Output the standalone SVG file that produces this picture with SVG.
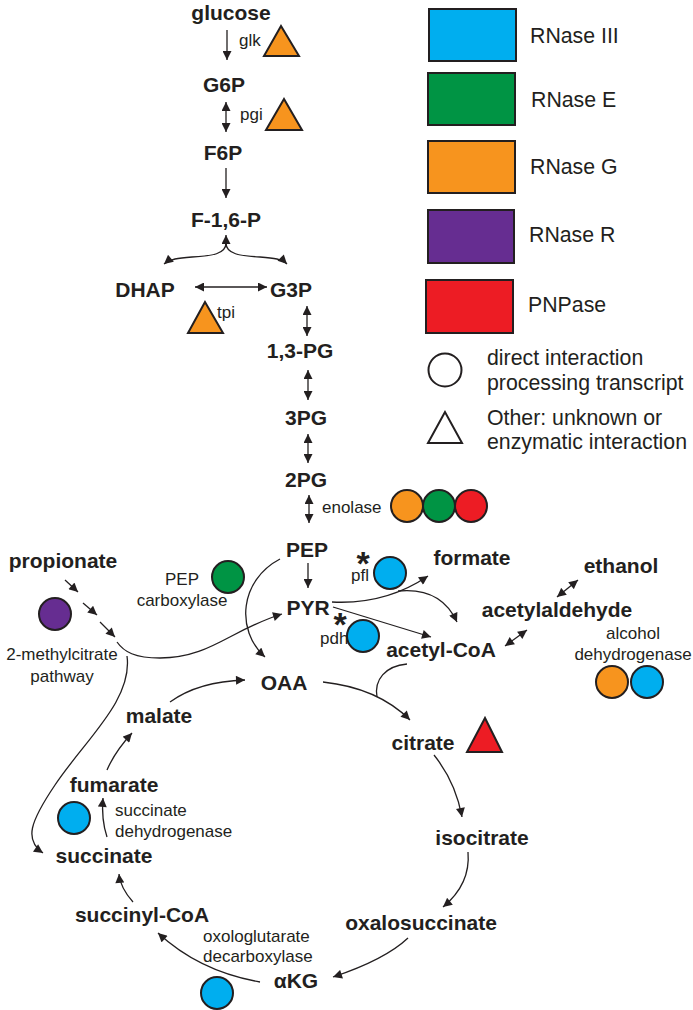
<svg xmlns="http://www.w3.org/2000/svg" width="693" height="1010" viewBox="0 0 693 1010">
<style>
text{font-family:"Liberation Sans",Arial,sans-serif;fill:#231F20}
.b{font-weight:bold;font-size:21px;text-anchor:middle}
.s{font-size:17px}
.sm{font-size:17px;text-anchor:middle}
.lg{font-size:21.3px}
.st{font-weight:bold;font-size:34px;text-anchor:middle}
.c{fill:none;stroke:#231F20;stroke-width:1.3}
.a{marker-end:url(#ah)}
.d{marker-start:url(#ah);marker-end:url(#ah)}
.sh{stroke:#231F20;stroke-width:2}
.blue{fill:#00AEEF}.green{fill:#009444}.orange{fill:#F7941E}.purple{fill:#662D91}.red{fill:#ED1C24}.white{fill:#fff}
</style>
<defs>
<marker id="ah" viewBox="0 0 10 10" refX="10" refY="5" markerWidth="10" markerHeight="9" markerUnits="userSpaceOnUse" orient="auto-start-reverse">
<path d="M0,0 L10,5 L0,10 z" fill="#231F20"/>
</marker>
</defs>
<rect width="693" height="1010" fill="#fff"/>

<g id="legend">
<rect class="sh blue" x="429" y="9" width="87" height="52"/>
<text class="lg" x="530" y="43">RNase III</text>
<rect class="sh green" x="428" y="73" width="87" height="52"/>
<text class="lg" x="531" y="107">RNase E</text>
<rect class="sh orange" x="428" y="141" width="87" height="52"/>
<text class="lg" x="530" y="174">RNase G</text>
<rect class="sh purple" x="428" y="210" width="86" height="53"/>
<text class="lg" x="529" y="242">RNase R</text>
<rect class="sh red" x="426" y="280" width="87" height="53"/>
<text class="lg" x="528" y="312">PNPase</text>
<circle class="sh white" cx="445" cy="370" r="16.5"/>
<text class="lg" x="487" y="365">direct interaction</text>
<text class="lg" x="487" y="390">processing transcript</text>
<polygon class="sh white" points="445,412 428,443 462,443"/>
<text class="lg" x="487" y="425">Other: unknown or</text>
<text class="lg" x="487" y="449">enzymatic interaction</text>
</g>

<g id="connectors">
<path class="c a" d="M227,30 L227,60"/>
<path class="c d" d="M226,102 L226,132"/>
<path class="c a" d="M226,168 L226,198"/>
<path class="c a" d="M226,246 L226,235"/>
<path class="c a" d="M226,243 C226,254 212,256 192,257 C178,258 170,259 164,264"/>
<path class="c a" d="M226,243 C226,254 240,256 260,257 C274,258 282,259 287,264"/>
<path class="c d" d="M195,287 L267,287"/>
<path class="c d" d="M307,306 L307,336"/>
<path class="c d" d="M308,370 L308,400"/>
<path class="c d" d="M308,434 L308,463"/>
<path class="c d" d="M309,495 L309,523"/>
<path class="c a" d="M308,563 L308,588"/>
<path class="c a" d="M280,559 C240,580 235,630 265,657"/>
<path class="c a" d="M332,602 C370,604 400,595 428,576"/>
<path class="c a" d="M398,591 C428,588 447,600 457,622"/>
<path class="c a" d="M333,607 L431,637"/>
<path class="c d" d="M505,646 L527,630"/>
<path class="c d" d="M557,597 L578,580"/>
<path class="c" d="M407,664 C385,666 374,680 377,697"/>
<path class="c a" d="M323,682 C360,686 390,700 410,720"/>
<path class="c a" d="M434,755 C450,775 458,795 462,817"/>
<path class="c a" d="M468,852 C470,875 460,893 443,907"/>
<path class="c a" d="M408,938 C390,955 360,968 333,977"/>
<path class="c a" d="M260,982 C220,975 185,958 158,933"/>
<path class="c a" d="M133,902 C125,893 120,885 119,874"/>
<path class="c a" d="M107,837 C103,825 102,810 103,798"/>
<path class="c a" d="M107,770 C113,756 121,745 132,733"/>
<path class="c a" d="M170,702 C188,689 212,681 245,680"/>
<path class="c a" d="M65,580 L78,592"/>
<path class="c a" d="M83,603 L97,615"/>
<path class="c a" d="M100,622 L115,637"/>
<path class="c a" d="M117,642 C124,652 135,658 160,658 C210,658 230,630 282,614"/>
<path class="c a" d="M127,656 C133,700 85,740 55,785 C30,822 24,840 43,853"/>
</g>

<g id="glucose"><text class="b" x="231" y="20">glucose</text>
<text class="s" x="239" y="46">glk</text>
<polygon class="sh orange" points="281,26 264,56 299,56"/></g>
<g id="G6P"><text class="b" x="224" y="92">G6P</text>
<text class="s" x="240" y="120">pgi</text>
<polygon class="sh orange" points="284,99 266,130 302,130"/></g>
<g id="F6P"><text class="b" x="223" y="160">F6P</text></g>
<g id="F16P"><text class="b" x="226" y="227">F-1,6-P</text></g>
<g id="DHAP"><text class="b" x="145" y="297">DHAP</text>
<polygon class="sh orange" points="205,302 188,333 223,333"/>
<text class="s" x="217" y="318">tpi</text></g>
<g id="G3P"><text class="b" x="291" y="297">G3P</text></g>
<g id="PG13"><text class="b" x="300" y="358">1,3-PG</text></g>
<g id="PG3"><text class="b" x="306" y="425">3PG</text></g>
<g id="PG2"><text class="b" x="306" y="487">2PG</text>
<text class="s" x="322" y="513">enolase</text>
<circle class="sh orange" cx="407" cy="506" r="16"/>
<circle class="sh green" cx="439" cy="506" r="16"/>
<circle class="sh red" cx="471" cy="506" r="16"/></g>
<g id="PEP"><text class="b" x="307" y="557">PEP</text>
<text class="sm" x="182" y="585">PEP</text>
<text class="sm" x="182" y="606">carboxylase</text>
<circle class="sh green" cx="228" cy="577" r="16"/></g>
<g id="PYR"><text class="b" x="308" y="615">PYR</text>
<text class="st" x="363" y="575">*</text>
<text class="s" x="351" y="581">pfl</text>
<circle class="sh blue" cx="390" cy="573" r="16"/>
<text class="st" x="340" y="636">*</text>
<text class="s" x="320" y="644">pdh</text>
<circle class="sh blue" cx="363" cy="636" r="16"/></g>
<g id="formate"><text class="b" x="472" y="565">formate</text></g>
<g id="ethanol"><text class="b" x="621" y="573">ethanol</text></g>
<g id="acetylaldehyde"><text class="b" x="557" y="617">acetylaldehyde</text>
<text class="sm" x="633" y="639">alcohol</text>
<text class="sm" x="633" y="660">dehydrogenase</text>
<circle class="sh orange" cx="612" cy="682" r="16"/>
<circle class="sh blue" cx="647" cy="682" r="16"/></g>
<g id="acetylCoA"><text class="b" x="441" y="657">acetyl-CoA</text></g>
<g id="propionate"><text class="b" x="63" y="568">propionate</text>
<circle class="sh purple" cx="55" cy="614" r="16"/>
<text class="sm" x="62" y="660">2-methylcitrate</text>
<text class="sm" x="62" y="682">pathway</text></g>
<g id="OAA"><text class="b" x="284" y="690">OAA</text></g>
<g id="malate"><text class="b" x="159" y="723">malate</text></g>
<g id="citrate"><text class="b" x="423" y="750">citrate</text>
<polygon class="sh red" points="485,718 467,752 502,752"/></g>
<g id="fumarate"><text class="b" x="114" y="792">fumarate</text>
<circle class="sh blue" cx="74" cy="818" r="16"/>
<text class="s" x="115" y="816">succinate</text>
<text class="s" x="115" y="837">dehydrogenase</text></g>
<g id="isocitrate"><text class="b" x="482" y="845">isocitrate</text></g>
<g id="succinate"><text class="b" x="104" y="863">succinate</text></g>
<g id="succinylCoA"><text class="b" x="142" y="922">succinyl-CoA</text></g>
<g id="oxalosuccinate"><text class="b" x="421" y="930">oxalosuccinate</text></g>
<g id="aKG"><text class="b" x="296" y="988">αKG</text>
<text class="s" x="203" y="942">oxologlutarate</text>
<text class="s" x="203" y="962">decarboxylase</text>
<circle class="sh blue" cx="217" cy="993" r="16"/></g>
</svg>
